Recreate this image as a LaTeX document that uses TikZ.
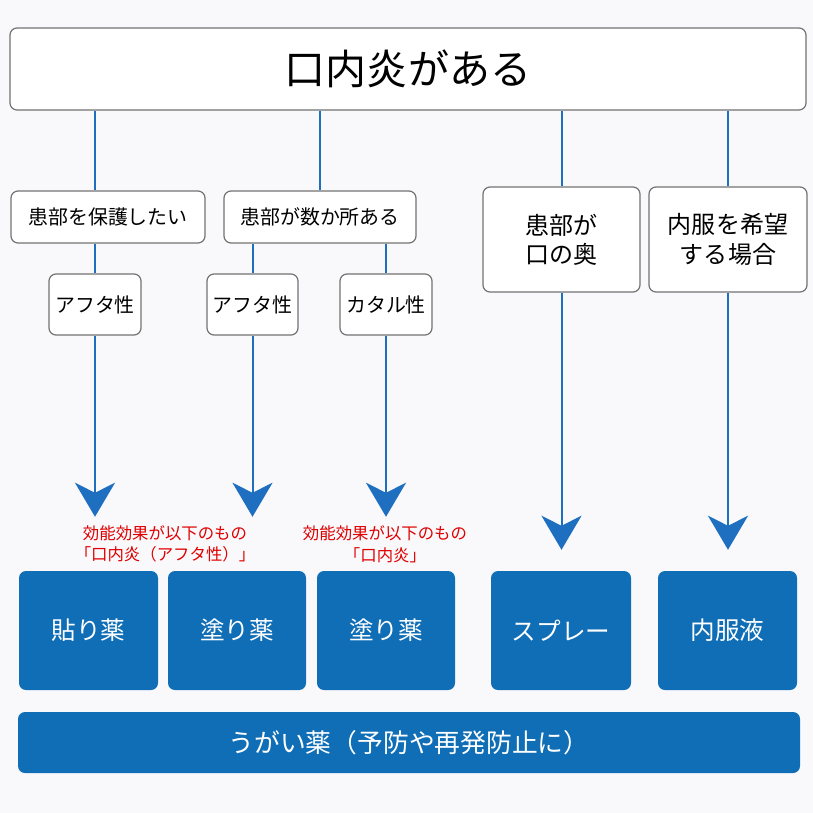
\documentclass[tikz,border=0pt]{standalone}
\usepackage{fontspec}
\setmainfont{Noto Sans CJK JP}
\usetikzlibrary{arrows.meta}
\definecolor{bgcol}{HTML}{F9F9FC}
\definecolor{boxblue}{HTML}{106EB6}
\definecolor{lineblue}{HTML}{1E6FBF}
\definecolor{notered}{HTML}{E00000}
\newcommand\pu{0.03cm}

\begin{document}
\begin{tikzpicture}[x=0.03cm, y=-0.03cm,
  askbox/.style={draw=black!55, fill=white, rounded corners=7*\pu, line width=1.2*\pu,
    inner sep=0pt, align=center, font=\fontsize{17}{21}\selectfont},
  drugbox/.style={fill=boxblue, rounded corners=7*\pu, inner sep=0pt, align=center,
    text=white, font=\fontsize{21}{25}\selectfont},
  link/.style={draw=lineblue, line width=2*\pu},
  pointer/.style={link, -{Stealth[length=34*\pu, width=40*\pu, inset=10*\pu]}},
  note/.style={text=notered, align=center, inner sep=0pt, font=\fontsize{14}{18.5}\selectfont}]

\fill[bgcol] (0,0) rectangle (813,813);
\useasboundingbox (0,0) rectangle (813,813);

% question boxes
\node[askbox, minimum width=796*\pu, minimum height=82*\pu, font=\fontsize{35}{40}\selectfont] (top) at (408,69) {口内炎がある};
\node[askbox, minimum width=194*\pu, minimum height=52*\pu] (p1) at (108,217) {患部を保護したい};
\node[askbox, minimum width=192*\pu, minimum height=52*\pu] (p2) at (320,217) {患部が数か所ある};
\node[askbox, minimum width=157*\pu, minimum height=105*\pu, font=\fontsize{20.5}{25}\selectfont] (p3) at (561.5,239.5) {患部が\\口の奥};
\node[askbox, minimum width=158*\pu, minimum height=105*\pu, font=\fontsize{20.5}{25}\selectfont] (p4) at (728,239.5) {内服を希望\\する場合};
\node[askbox, minimum width=92*\pu, minimum height=61*\pu] (a1) at (95,304.5) {アフタ性};
\node[askbox, minimum width=91*\pu, minimum height=61*\pu] (a2) at (252.5,304.5) {アフタ性};
\node[askbox, minimum width=92*\pu, minimum height=61*\pu] (c3) at (386,304.5) {カタル性};

% medicines
\node[drugbox, minimum width=139*\pu, minimum height=119*\pu] (b1) at (88.5,630.5) {貼り薬};
\node[drugbox, minimum width=138*\pu, minimum height=119*\pu] (b2) at (237,630.5) {塗り薬};
\node[drugbox, minimum width=138*\pu, minimum height=119*\pu] (b3) at (386,630.5) {塗り薬};
\node[drugbox, minimum width=140*\pu, minimum height=119*\pu] (b4) at (561,630.5) {スプレー};
\node[drugbox, minimum width=139*\pu, minimum height=119*\pu] (b5) at (727.5,630.5) {内服液};
\node[drugbox, minimum width=782*\pu, minimum height=61*\pu, font=\fontsize{22}{26}\selectfont] (gargle) at (409,742.5) {うがい薬（予防や再発防止に）};

\node[note] (n1) at (165,544) {効能効果が以下のもの\\「口内炎（アフタ性）」};
\node[note] (n2) at (385,544) {効能効果が以下のもの\\「口内炎」};

% connectors
\draw[link] (top.south -| a1.north) -- (p1.north -| a1.north);
\draw[link] (p1.south -| a1.north) -- (a1.north);
\draw[link] (top.south -| p2.north) -- (p2.north);
\draw[link] (p2.south -| a2.north) -- (a2.north);
\draw[link] (p2.south -| c3.north) -- (c3.north);
\draw[link] (top.south -| p3.north) -- (p3.north);
\draw[link] (top.south -| p4.north) -- (p4.north);

\draw[pointer, shorten >=54*\pu] (a1.south) -- (a1.south |- b1.north);
\draw[pointer, shorten >=54*\pu] (a2.south) -- (a2.south |- b2.north);
\draw[pointer, shorten >=54*\pu] (c3.south) -- (c3.south |- b3.north);
\draw[pointer, shorten >=21*\pu] (p3.south) -- (p3.south |- b4.north);
\draw[pointer, shorten >=21*\pu] (p4.south) -- (p4.south |- b5.north);

\end{tikzpicture}
\end{document}
